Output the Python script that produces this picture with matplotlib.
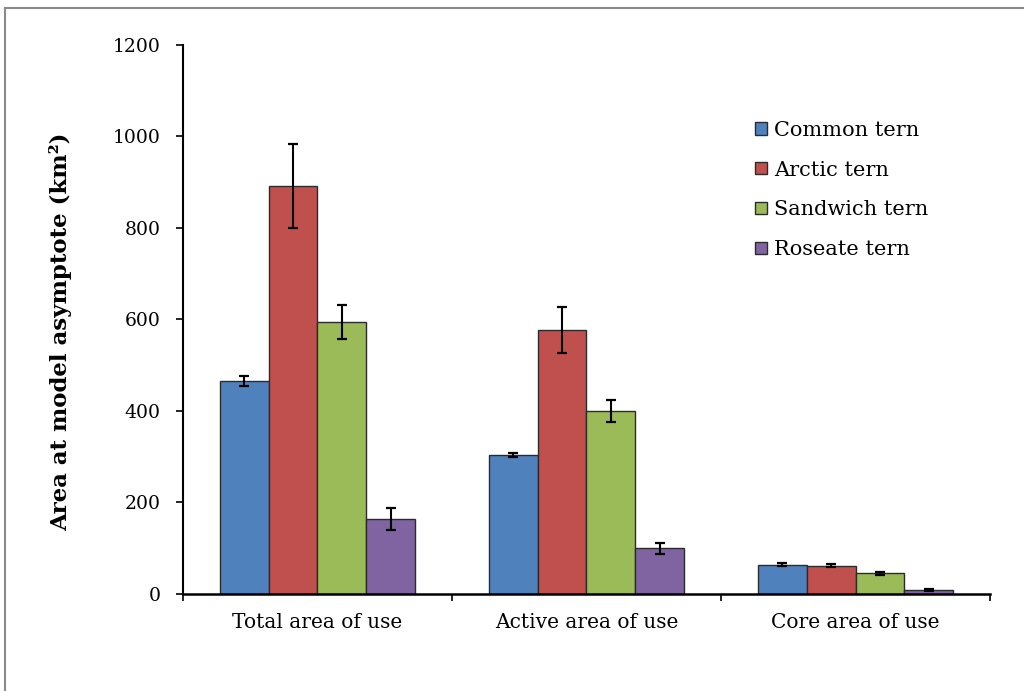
import matplotlib
matplotlib.use("Agg")
import matplotlib.pyplot as plt
import numpy as np
from matplotlib.lines import Line2D

categories = ["Total area of use", "Active area of use", "Core area of use"]
species = ["Common tern", "Arctic tern", "Sandwich tern", "Roseate tern"]
values = {
    "Common tern": [465, 304, 64],
    "Arctic tern": [891, 577, 62],
    "Sandwich tern": [594, 400, 45],
    "Roseate tern": [164, 100, 9],
}
errors = {
    "Common tern": [11, 5, 3],
    "Arctic tern": [92, 50, 3],
    "Sandwich tern": [37, 23, 3],
    "Roseate tern": [25, 12, 2],
}
colors = ["#4F81BD", "#C0504D", "#9BBB59", "#8064A2"]
yticks = [0, 200, 400, 600, 800, 1000, 1200]

plt.rcParams["font.family"] = ["DejaVu Serif"]

fig = plt.figure(figsize=(10.24, 6.91), dpi=100)
ax = fig.add_axes([0.1787, 0.1404, 0.7881, 0.7945])

n = len(species)
gap = 1.5
width = 1.0 / (n + gap)
x = np.arange(len(categories))
for i, sp in enumerate(species):
    pos = x + (i - (n - 1) / 2) * width
    ax.bar(pos, values[sp], width=width, color=colors[i], edgecolor="#2b2b2b",
           linewidth=1.0, label=sp, zorder=2)
    ax.errorbar(pos, values[sp], yerr=errors[sp], fmt="none", ecolor="black",
                elinewidth=1.5, capsize=3.6, capthick=1.6, zorder=3)

ax.set_xlim(-0.5, len(categories) - 0.5)
ax.set_ylim(0, 1200)
ax.set_yticks(yticks)
ax.set_yticklabels([str(v) for v in yticks], fontsize=13.5)
ax.tick_params(axis="y", direction="out", length=5, width=1.2, pad=11)

# category labels centred, ticks at group boundaries
ax.set_xticks(x)
ax.set_xticklabels(categories, fontsize=14.5)
ax.tick_params(axis="x", which="major", length=0, pad=14)
ax.set_xticks(np.arange(len(categories) + 1) - 0.5, minor=True)
ax.tick_params(axis="x", which="minor", direction="out", length=5, width=1.2)

for side in ("top", "right"):
    ax.spines[side].set_visible(False)
ax.spines["left"].set_linewidth(1.5)
ax.spines["bottom"].set_linewidth(1.8)

ax.set_ylabel("Area at model asymptote (km²)", fontsize=16.5, fontweight="bold")
ax.yaxis.set_label_coords(-0.137, 0.477)

leg = ax.legend(loc="upper left", bbox_to_anchor=(0.709, 0.862), frameon=False,
                fontsize=15, handlelength=0.55, handleheight=0.55,
                handletextpad=0.34, labelspacing=1.0, borderpad=0,
                borderaxespad=0)

# outer frame of the chart area
fig.add_artist(Line2D([5 / 1024, 1.0], [1 - 8 / 691, 1 - 8 / 691],
                      transform=fig.transFigure, color="#8a8a8a", lw=1.5))
fig.add_artist(Line2D([5 / 1024, 5 / 1024], [0.0, 1 - 8 / 691],
                      transform=fig.transFigure, color="#8a8a8a", lw=1.5))

fig.savefig("out.png", dpi=100)
